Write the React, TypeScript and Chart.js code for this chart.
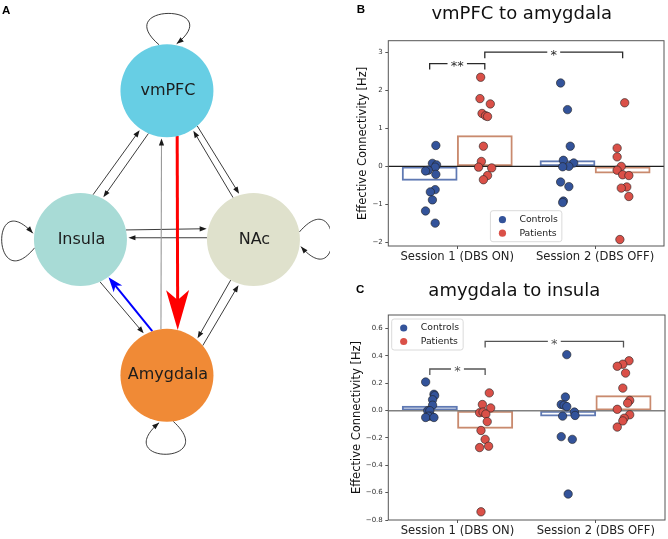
import React, { useEffect, useRef } from "react";
import { Chart, registerables } from "chart.js";

Chart.register(...registerables);

const FONT = "'DejaVu Sans', sans-serif";
const LETTER_FONT = "'Liberation Sans', Arial, sans-serif";

/* ================= Panel A: network model ================= */
const nodeNames = ["vmPFC", "Insula", "NAc", "Amygdala"];
const nodeX = [0, -1, 1, 0];
const nodeY = [1.72, 0, 0, -1.57];
const edgeFrom = [1, 0, 0, 2, 1, 2, 3, 0, 3, 1, 2, 3];
const edgeTo = [0, 1, 2, 0, 2, 1, 0, 3, 1, 3, 3, 2];
const edgeKind = ["plain", "plain", "plain", "plain", "plain", "plain", "faint", "increase", "decrease", "plain", "plain", "plain"];
const selfLoopNodes = [0, 1, 2, 3];

/* ================= Panels B / C ================= */
const sessionLabels = ["Session 1 (DBS ON)", "Session 2 (DBS OFF)"];
const groupLabels = ["Controls", "Patients"];
const sessionPositions = [0, 1];
const groupOffsets = [-0.2, 0.2];

// B: vmPFC to amygdala
const bYTicks = [-2, -1, 0, 1, 2, 3];
const bControlsMean = [-0.37, 0.15];
const bPatientsMean = [0.81, -0.18];
const bControlsS1 = [0.55, 0.08, 0.04, -0.02, -0.1, -0.12, -0.21, -0.61, -0.67, -0.88, -1.17, -1.49];
const bControlsS1X = [-0.155, -0.18, -0.15, -0.16, -0.21, -0.23, -0.155, -0.16, -0.195, -0.18, -0.23, -0.16];
const bPatientsS1 = [2.34, 1.78, 1.64, 1.39, 1.33, 1.31, 0.53, 0.13, -0.02, -0.04, -0.24, -0.35];
const bPatientsS1X = [0.17, 0.165, 0.24, 0.18, 0.205, 0.22, 0.19, 0.175, 0.155, 0.25, 0.22, 0.19];
const bControlsS2 = [2.19, 1.49, 0.53, 0.16, 0.09, 0.0, -0.01, -0.41, -0.53, -0.91, -0.95];
const bControlsS2X = [0.75, 0.8, 0.82, 0.77, 0.845, 0.81, 0.765, 0.75, 0.81, 0.77, 0.765];
const bPatientsS2 = [1.67, 0.48, 0.25, 0.0, -0.1, -0.22, -0.24, -0.54, -0.57, -0.79, -1.92];
const bPatientsS2X = [1.215, 1.16, 1.16, 1.19, 1.16, 1.2, 1.245, 1.23, 1.19, 1.245, 1.18];
const bBracketX1 = [-0.2, 0.2];
const bBracketX2 = [0.2, 1.2];
const bBracketY = [2.7, 3.0];
const bBracketLabel = ["**", "*"];

// C: amygdala to insula
const cYTicks = [-0.8, -0.6, -0.4, -0.2, 0, 0.2, 0.4, 0.6];
const cControlsMean = [0.034, -0.04];
const cPatientsMean = [-0.13, 0.11];
const cControlsS1 = [0.21, 0.12, 0.11, 0.08, 0.04, 0.0, 0.0, -0.04, -0.04, -0.05, -0.05];
const cControlsS1X = [-0.23, -0.17, -0.165, -0.18, -0.18, -0.215, -0.2, -0.19, -0.21, -0.23, -0.17];
const cPatientsS1 = [0.13, 0.045, 0.02, -0.015, -0.01, -0.025, -0.08, -0.145, -0.21, -0.27, -0.26, -0.74];
const cPatientsS1X = [0.23, 0.18, 0.24, 0.16, 0.185, 0.205, 0.215, 0.17, 0.2, 0.16, 0.225, 0.17];
const cControlsS2 = [0.41, 0.1, 0.045, 0.04, 0.03, -0.01, -0.035, -0.04, -0.19, -0.21, -0.61];
const cControlsS2X = [0.79, 0.78, 0.75, 0.77, 0.79, 0.845, 0.85, 0.76, 0.75, 0.83, 0.8];
const cPatientsS2 = [0.365, 0.34, 0.325, 0.275, 0.165, 0.075, 0.055, 0.01, -0.03, -0.055, -0.075, -0.12];
const cPatientsS2X = [1.24, 1.195, 1.155, 1.215, 1.195, 1.245, 1.23, 1.155, 1.245, 1.205, 1.195, 1.155];
const cBracketX1 = [-0.2, 0.2];
const cBracketX2 = [0.2, 1.2];
const cBracketY = [0.305, 0.507];
const cBracketLabel = ["*", "*"];

/* ================= styles / layout ================= */
const NODE_COLORS = ["#67CEE4", "#A8DBD6", "#DFE1CC", "#F08A36"];
const NODE_RADIUS = 46.5;
// attachment angles (deg, screen coords) on source / target circles
const EDGE_ANCHORS = [
  [-74.3, 124.7], [113.4, -61.5], [49.3, -107.4], [-115.9, 56.6],
  [-11.9, -167], [-177.8, -2.1], [-97.4, 96.5], [77.3, -76.6],
  [-108.4, 53.3], [65.2, -119], [119.3, -50.4], [-39.7, 108.2],
];
const LOOP_ANCHORS = [[-99.6, -78.3], [169.8, 187.5], [-9.3, 8.5], [82.2, 99.4]];
const EDGE_STYLES: Record<string, any> = {
  plain: { color: "#262626", width: 0.9, head: 7, half: 2.6, notch: 0, headColor: "#1a1a1a", gap: 1.5 },
  faint: { color: "#9a9a9a", width: 1.1, head: 7, half: 2.6, notch: 0, headColor: "#1a1a1a", gap: 1.5 },
  increase: { color: "#FF0000", width: 3, head: 40, half: 11.5, notch: 10, headColor: "#FF0000", gap: 0 },
  decrease: { color: "#0000FF", width: 2, head: 15, half: 5.5, notch: 4, headColor: "#0000FF", gap: 0.5 },
};

const CTRL_COLOR = "#33539a";
const PAT_COLOR = "#da5048";
const CTRL_BAR = "#5f79b3";
const PAT_BAR = "#c98a6e";

const rad = (d: number) => (d * Math.PI) / 180;

function drawArrow(ctx: CanvasRenderingContext2D, sx: number, sy: number, tx: number, ty: number, st: any, ux?: number, uy?: number) {
  if (ux === undefined || uy === undefined) {
    const L = Math.hypot(tx - sx, ty - sy);
    ux = (tx - sx) / L;
    uy = (ty - sy) / L;
  }
  const nx = -uy, ny = ux;
  const bx = tx - ux * st.head, by = ty - uy * st.head;
  const kx = tx - ux * (st.head - st.notch), ky = ty - uy * (st.head - st.notch);
  ctx.beginPath();
  ctx.moveTo(tx, ty);
  ctx.lineTo(bx + nx * st.half, by + ny * st.half);
  ctx.lineTo(kx, ky);
  ctx.lineTo(bx - nx * st.half, by - ny * st.half);
  ctx.closePath();
  ctx.fillStyle = st.headColor;
  ctx.fill();
}

const diagramPlugin = {
  id: "diagram",
  beforeDatasetsDraw(chart: any) {
    const { ctx } = chart;
    const xs = chart.scales.x, ys = chart.scales.y;
    const px = (i: number) => xs.getPixelForValue(nodeX[i]);
    const py = (i: number) => ys.getPixelForValue(nodeY[i]);
    ctx.save();
    ctx.lineCap = "butt";
    edgeFrom.forEach((f, k) => {
      const t = edgeTo[k];
      const st = EDGE_STYLES[edgeKind[k]];
      const [a1, a2] = EDGE_ANCHORS[k];
      const sx = px(f) + NODE_RADIUS * Math.cos(rad(a1));
      const sy = py(f) + NODE_RADIUS * Math.sin(rad(a1));
      const tx = px(t) + (NODE_RADIUS + st.gap) * Math.cos(rad(a2));
      const ty = py(t) + (NODE_RADIUS + st.gap) * Math.sin(rad(a2));
      const L = Math.hypot(tx - sx, ty - sy);
      const ux = (tx - sx) / L, uy = (ty - sy) / L;
      const ex = tx - ux * (st.head - st.notch - 0.5), ey = ty - uy * (st.head - st.notch - 0.5);
      ctx.beginPath();
      ctx.moveTo(sx, sy);
      ctx.lineTo(ex, ey);
      ctx.strokeStyle = st.color;
      ctx.lineWidth = st.width;
      ctx.stroke();
      drawArrow(ctx, sx, sy, tx, ty, st);
    });
    const loopStyle = EDGE_STYLES.plain;
    selfLoopNodes.forEach((n, k) => {
      const [a1, a2] = LOOP_ANCHORS[k];
      const cx = px(n), cy = py(n);
      const sx = cx + NODE_RADIUS * Math.cos(rad(a1));
      const sy = cy + NODE_RADIUS * Math.sin(rad(a1));
      const ex = cx + (NODE_RADIUS + 1.5) * Math.cos(rad(a2));
      const ey = cy + (NODE_RADIUS + 1.5) * Math.sin(rad(a2));
      const K = 65, spread = 40;
      const c1x = sx + K * Math.cos(rad(a1 - spread)), c1y = sy + K * Math.sin(rad(a1 - spread));
      const c2x = ex + K * Math.cos(rad(a2 + spread)), c2y = ey + K * Math.sin(rad(a2 + spread));
      ctx.beginPath();
      ctx.moveTo(sx, sy);
      ctx.bezierCurveTo(c1x, c1y, c2x, c2y, ex, ey);
      ctx.strokeStyle = loopStyle.color;
      ctx.lineWidth = loopStyle.width;
      ctx.stroke();
      const L = Math.hypot(ex - c2x, ey - c2y);
      drawArrow(ctx, 0, 0, ex, ey, loopStyle, (ex - c2x) / L, (ey - c2y) / L);
    });
    ctx.restore();
  },
  afterDatasetsDraw(chart: any) {
    const { ctx } = chart;
    const xs = chart.scales.x, ys = chart.scales.y;
    ctx.save();
    ctx.font = `16px ${FONT}`;
    ctx.fillStyle = "#1c1c1c";
    ctx.textAlign = "center";
    ctx.textBaseline = "middle";
    nodeNames.forEach((name, i) => {
      ctx.fillText(name, xs.getPixelForValue(nodeX[i]) + 1, ys.getPixelForValue(nodeY[i]));
    });
    ctx.font = `bold 11.5px ${LETTER_FONT}`;
    ctx.textAlign = "left";
    ctx.textBaseline = "alphabetic";
    ctx.fillStyle = "#000";
    ctx.fillText("A", 2, 14);
    ctx.restore();
  },
};

function buildDiagram(): any {
  return {
    type: "scatter",
    data: {
      datasets: [
        {
          label: "regions",
          data: nodeNames.map((_, i) => ({ x: nodeX[i], y: nodeY[i] })),
          pointRadius: NODE_RADIUS,
          pointHoverRadius: NODE_RADIUS,
          pointBackgroundColor: NODE_COLORS,
          pointBorderWidth: 0,
          clip: false,
        },
      ],
    },
    options: {
      responsive: false,
      animation: false,
      devicePixelRatio: 1,
      events: [],
      layout: { padding: 0, autoPadding: false },
      plugins: { legend: { display: false }, tooltip: { enabled: false } },
      scales: {
        x: { type: "linear", display: false, min: -1.93, max: 1.885 },
        y: { type: "linear", display: false, min: -3.462, max: 2.769 },
      },
    },
    plugins: [diagramPlugin],
  };
}

type PanelSpec = {
  letter: string;
  title: string;
  titleX: number;
  titleBaseline: number;
  letterX: number;
  letterBaseline: number;
  yMin: number;
  yMax: number;
  yTicks: number[];
  yDecimals: number;
  yTitlePad: number;
  padTop: number;
  padRight: number;
  xAxisHeight: number;
  controls: { x: number; y: number }[];
  patients: { x: number; y: number }[];
  controlsMean: number[];
  patientsMean: number[];
  bracketX1: number[];
  bracketX2: number[];
  bracketY: number[];
  bracketLabel: string[];
  bracketColor: string;
  zeroColor: string;
  zeroWidth: number;
  legendPos: "lower center" | "upper left";
};

const toPoints = (xs: number[], ys: number[]) => xs.map((x, i) => ({ x, y: ys[i] }));

function fmtTick(v: number, dec: number) {
  const s = Math.abs(v).toFixed(dec);
  return v < -1e-9 ? "\u2212" + s : s;
}

function buildPanel(spec: PanelSpec): any {
  const overlay = {
    id: "overlay",
    afterDatasetsDraw(chart: any) {
      const { ctx, chartArea: a } = chart;
      const xs = chart.scales.x, ys = chart.scales.y;
      ctx.save();
      // frame (all four spines)
      ctx.strokeStyle = "#555";
      ctx.lineWidth = 1;
      ctx.strokeRect(a.left, a.top, a.right - a.left, a.bottom - a.top);
      // significance brackets
      ctx.font = `13px ${FONT}`;
      ctx.strokeStyle = spec.bracketColor;
      ctx.fillStyle = spec.bracketColor;
      ctx.lineWidth = 1.3;
      spec.bracketY.forEach((yv, i) => {
        const x1 = xs.getPixelForValue(spec.bracketX1[i]);
        const x2 = xs.getPixelForValue(spec.bracketX2[i]);
        const yp = ys.getPixelForValue(yv);
        const drop = 6;
        const mid = (x1 + x2) / 2;
        const tw = ctx.measureText(spec.bracketLabel[i]).width;
        const gap = tw / 2 + 3.2;
        ctx.beginPath();
        ctx.moveTo(x1, yp + drop);
        ctx.lineTo(x1, yp);
        ctx.lineTo(mid - gap, yp);
        ctx.moveTo(mid + gap, yp);
        ctx.lineTo(x2, yp);
        ctx.lineTo(x2, yp + drop);
        ctx.stroke();
        ctx.textAlign = "center";
        ctx.textBaseline = "middle";
        ctx.fillText(spec.bracketLabel[i], mid, yp + 3);
      });
      // legend
      ctx.font = `9.3px ${FONT}`;
      const colors = [CTRL_COLOR, PAT_COLOR];
      const tw = Math.max(...groupLabels.map((g) => ctx.measureText(g).width));
      const w = 29 + tw + 4;
      const h = 31;
      let lx: number, ly: number;
      if (spec.legendPos === "lower center") {
        lx = (a.left + a.right) / 2 - w / 2;
        ly = a.bottom - 4.3 - h;
      } else {
        lx = a.left + 3.4;
        ly = a.top + 4;
      }
      ctx.beginPath();
      ctx.roundRect(lx, ly, w, h, 2.5);
      ctx.fillStyle = "rgba(255,255,255,0.8)";
      ctx.fill();
      ctx.strokeStyle = "#d0d0d0";
      ctx.lineWidth = 0.8;
      ctx.stroke();
      groupLabels.forEach((g, i) => {
        const cy = ly + 9 + i * 13.5;
        ctx.beginPath();
        ctx.arc(lx + 12, cy, 3.6, 0, Math.PI * 2);
        ctx.fillStyle = colors[i];
        ctx.fill();
        ctx.fillStyle = "#222";
        ctx.textAlign = "left";
        ctx.textBaseline = "middle";
        ctx.fillText(g, lx + 29, cy);
      });
      ctx.restore();
    },
    afterDraw(chart: any) {
      const { ctx } = chart;
      ctx.save();
      ctx.fillStyle = "#111";
      ctx.font = `18px ${FONT}`;
      ctx.textAlign = "center";
      ctx.textBaseline = "alphabetic";
      ctx.fillText(spec.title, spec.titleX, spec.titleBaseline);
      ctx.font = `bold 11.5px ${LETTER_FONT}`;
      ctx.textAlign = "left";
      ctx.fillStyle = "#000";
      ctx.fillText(spec.letter, spec.letterX, spec.letterBaseline);
      ctx.restore();
    },
  };

  const gridCfg = {
    display: true,
    drawOnChartArea: false,
    drawTicks: true,
    tickLength: 3,
    color: "#555",
    lineWidth: 1,
    offset: false,
  };

  return {
    type: "scatter",
    data: {
      datasets: [
        {
          type: "scatter",
          label: groupLabels[0],
          data: spec.controls,
          pointRadius: 4.2,
          pointBackgroundColor: CTRL_COLOR,
          pointBorderColor: "#222",
          pointBorderWidth: 0.6,
          order: 0,
        },
        {
          type: "scatter",
          label: groupLabels[1],
          data: spec.patients,
          pointRadius: 4.2,
          pointBackgroundColor: PAT_COLOR,
          pointBorderColor: "#222",
          pointBorderWidth: 0.6,
          order: 0,
        },
        {
          type: "line",
          label: "zero",
          data: [
            { x: -0.5, y: 0 },
            { x: 1.5, y: 0 },
          ],
          borderColor: spec.zeroColor,
          borderWidth: spec.zeroWidth,
          pointRadius: 0,
          order: 1,
        },
        {
          type: "bar",
          label: groupLabels[0] + " mean",
          data: sessionPositions.map((s, i) => ({ x: s + groupOffsets[0], y: spec.controlsMean[i] })),
          backgroundColor: "rgba(0,0,0,0)",
          borderColor: CTRL_BAR,
          borderWidth: 1.3,
          borderSkipped: false,
          grouped: false,
          barPercentage: 1,
          categoryPercentage: 1,
          order: 2,
        },
        {
          type: "bar",
          label: groupLabels[1] + " mean",
          data: sessionPositions.map((s, i) => ({ x: s + groupOffsets[1], y: spec.patientsMean[i] })),
          backgroundColor: "rgba(0,0,0,0)",
          borderColor: PAT_BAR,
          borderWidth: 1.3,
          borderSkipped: false,
          grouped: false,
          barPercentage: 1,
          categoryPercentage: 1,
          order: 2,
        },
      ],
    },
    options: {
      responsive: false,
      animation: false,
      devicePixelRatio: 1,
      events: [],
      layout: { padding: { top: spec.padTop, right: spec.padRight, left: 0, bottom: 0 }, autoPadding: false },
      plugins: { legend: { display: false }, tooltip: { enabled: false }, title: { display: false } },
      scales: {
        x: {
          type: "linear",
          min: -0.5,
          max: 1.5,
          offset: false,
          afterBuildTicks: (s: any) => {
            s.ticks = sessionPositions.map((v) => ({ value: v }));
          },
          afterFit: (s: any) => {
            s.height = spec.xAxisHeight;
          },
          ticks: {
            callback: (v: number) => sessionLabels[Math.round(v)] ?? "",
            font: { family: FONT, size: 11.6 },
            color: "#222",
            padding: 1,
            maxRotation: 0,
            autoSkip: false,
          },
          grid: gridCfg,
          border: { display: false },
        },
        y: {
          type: "linear",
          min: spec.yMin,
          max: spec.yMax,
          afterBuildTicks: (s: any) => {
            s.ticks = spec.yTicks.map((v) => ({ value: v }));
          },
          afterFit: (s: any) => {
            s.width = 58.3;
          },
          ticks: {
            callback: (v: number) => fmtTick(v, spec.yDecimals),
            font: { family: FONT, size: 7 },
            color: "#333",
            padding: 2.5,
            autoSkip: false,
          },
          grid: gridCfg,
          border: { display: false },
          title: {
            display: true,
            text: "Effective Connectivity [Hz]",
            font: { family: FONT, size: 11.5 },
            color: "#111",
            padding: { top: spec.yTitlePad, bottom: 0 },
          },
        },
      },
    },
    plugins: [overlay],
  };
}

const panelB: PanelSpec = {
  letter: "B",
  title: "vmPFC to amygdala",
  titleX: 191.7,
  titleBaseline: 18.5,
  letterX: 26.7,
  letterBaseline: 13.3,
  yMin: -2.09,
  yMax: 3.3,
  yTicks: bYTicks,
  yDecimals: 0,
  yTitlePad: 26.1,
  padTop: 40.7,
  padRight: 4,
  xAxisHeight: 24,
  controls: [...toPoints(bControlsS1X, bControlsS1), ...toPoints(bControlsS2X, bControlsS2)],
  patients: [...toPoints(bPatientsS1X, bPatientsS1), ...toPoints(bPatientsS2X, bPatientsS2)],
  controlsMean: bControlsMean,
  patientsMean: bPatientsMean,
  bracketX1: bBracketX1,
  bracketX2: bBracketX2,
  bracketY: bBracketY,
  bracketLabel: bBracketLabel,
  bracketColor: "#2a2a2a",
  zeroColor: "#1e1e1e",
  zeroWidth: 1.3,
  legendPos: "lower center",
};

const panelC: PanelSpec = {
  letter: "C",
  title: "amygdala to insula",
  titleX: 184.3,
  titleBaseline: 26,
  letterX: 26,
  letterBaseline: 23.3,
  yMin: -0.8,
  yMax: 0.7,
  yTicks: cYTicks,
  yDecimals: 1,
  yTitlePad: 19.8,
  padTop: 45,
  padRight: 3,
  xAxisHeight: 19,
  controls: [...toPoints(cControlsS1X, cControlsS1), ...toPoints(cControlsS2X, cControlsS2)],
  patients: [...toPoints(cPatientsS1X, cPatientsS1), ...toPoints(cPatientsS2X, cPatientsS2)],
  controlsMean: cControlsMean,
  patientsMean: cPatientsMean,
  bracketX1: cBracketX1,
  bracketX2: cBracketX2,
  bracketY: cBracketY,
  bracketLabel: cBracketLabel,
  bracketColor: "#555",
  zeroColor: "#808080",
  zeroWidth: 1.5,
  legendPos: "upper left",
};

function ChartCanvas(props: { width: number; height: number; left: number; top: number; build: () => any }) {
  const ref = useRef<HTMLCanvasElement>(null);
  useEffect(() => {
    const chart = new Chart(ref.current as HTMLCanvasElement, props.build());
    return () => chart.destroy();
  }, []);
  return (
    <canvas
      ref={ref}
      width={props.width}
      height={props.height}
      style={{ position: "absolute", left: props.left, top: props.top, width: props.width, height: props.height }}
    />
  );
}

export default function App() {
  return (
    <div style={{ position: "absolute", left: 0, top: 0, width: 668, height: 539, background: "#fff", overflow: "hidden" }}>
      <ChartCanvas width={330} height={539} left={0} top={0} build={buildDiagram} />
      <ChartCanvas width={338} height={270} left={330} top={0} build={() => buildPanel(panelB)} />
      <ChartCanvas width={338} height={269} left={330} top={270} build={() => buildPanel(panelC)} />
    </div>
  );
}
